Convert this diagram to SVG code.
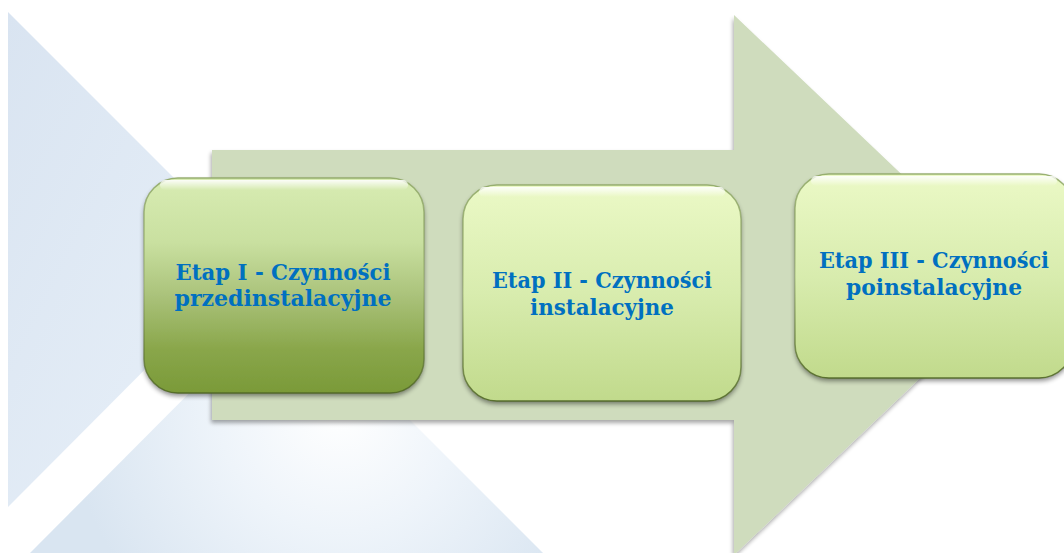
<svg xmlns="http://www.w3.org/2000/svg" width="1064" height="553" viewBox="0 0 1064 553">
  <defs>
    <linearGradient id="bgLeft" x1="0" y1="0" x2="1" y2="1">
      <stop offset="0" stop-color="#d9e4f1"/>
      <stop offset="1" stop-color="#e9f1f9"/>
    </linearGradient>
    <radialGradient id="bgBottom" gradientUnits="userSpaceOnUse" cx="340" cy="410" r="270">
      <stop offset="0" stop-color="#ffffff"/>
      <stop offset="0.45" stop-color="#eef4fa"/>
      <stop offset="1" stop-color="#d9e5f1"/>
    </radialGradient>
    <linearGradient id="darkBox" x1="0" y1="0" x2="0" y2="1">
      <stop offset="0" stop-color="#d8ecb3"/>
      <stop offset="0.3" stop-color="#c9e0a0"/>
      <stop offset="0.55" stop-color="#aac27a"/>
      <stop offset="0.8" stop-color="#89a64a"/>
      <stop offset="1" stop-color="#7a9a38"/>
    </linearGradient>
    <linearGradient id="lightBox" x1="0" y1="0" x2="0" y2="1">
      <stop offset="0" stop-color="#ebf9c6"/>
      <stop offset="0.5" stop-color="#d8ecae"/>
      <stop offset="1" stop-color="#c1da8c"/>
    </linearGradient>
    <linearGradient id="rim" x1="0" y1="0" x2="0" y2="1">
      <stop offset="0" stop-color="#8fa866" stop-opacity="0.9"/>
      <stop offset="0.5" stop-color="#7d9450" stop-opacity="0.35"/>
      <stop offset="1" stop-color="#4f6624" stop-opacity="0.9"/>
    </linearGradient>
    <linearGradient id="gloss" x1="0" y1="0" x2="0" y2="1">
      <stop offset="0" stop-color="#ffffff" stop-opacity="0.9"/>
      <stop offset="1" stop-color="#ffffff" stop-opacity="0"/>
    </linearGradient>
    <filter id="shadow" x="-10%" y="-10%" width="120%" height="125%">
      <feGaussianBlur in="SourceAlpha" stdDeviation="2.5"/>
      <feOffset dx="0" dy="3" result="b"/>
      <feComponentTransfer><feFuncA type="linear" slope="0.45"/></feComponentTransfer>
      <feMerge><feMergeNode/><feMergeNode in="SourceGraphic"/></feMerge>
    </filter>
    <filter id="arrowShadow" x="-5%" y="-5%" width="110%" height="115%">
      <feGaussianBlur in="SourceAlpha" stdDeviation="2"/>
      <feOffset dx="-1" dy="3" result="b"/>
      <feComponentTransfer><feFuncA type="linear" slope="0.35"/></feComponentTransfer>
      <feMerge><feMergeNode/><feMergeNode in="SourceGraphic"/></feMerge>
    </filter>
    <style>
      .label { font-family: "DejaVu Serif", "Liberation Serif", serif; font-weight: bold; font-size: 22px; fill: #0070c0; text-anchor: middle; }
      .rim { fill: none; stroke: url(#rim); stroke-width: 1.5; }
    </style>
  </defs>

  <!-- pale blue background wedges -->
  <g id="background">
    <polygon points="8,12 255,259 8,507" fill="url(#bgLeft)"/>
    <polygon points="286,296 543,553 30,553" fill="url(#bgBottom)"/>
  </g>

  <!-- broad process arrow -->
  <g id="connectors">
    <path d="M212,150 H734 V15 L1018,285 L734,555 V420 H212 Z" fill="#cfdcbd" filter="url(#arrowShadow)"/>
  </g>

  <!-- stage 1 -->
  <g id="stage1">
    <rect x="144" y="178" width="280" height="215" rx="34" fill="url(#darkBox)" filter="url(#shadow)"/>
    <rect x="144" y="178" width="280" height="215" rx="34" class="rim"/>
    <rect x="160" y="180" width="248" height="10" rx="5" fill="url(#gloss)"/>
    <text class="label" x="283" y="280" textLength="215" lengthAdjust="spacingAndGlyphs">Etap I - Czynności</text>
    <text class="label" x="283" y="306" textLength="217" lengthAdjust="spacingAndGlyphs">przedinstalacyjne</text>
  </g>

  <!-- stage 2 -->
  <g id="stage2">
    <rect x="463" y="185" width="278" height="216" rx="34" fill="url(#lightBox)" filter="url(#shadow)"/>
    <rect x="463" y="185" width="278" height="216" rx="34" class="rim"/>
    <rect x="479" y="187" width="246" height="10" rx="5" fill="url(#gloss)"/>
    <text class="label" x="602" y="288" textLength="220" lengthAdjust="spacingAndGlyphs">Etap II - Czynności</text>
    <text class="label" x="602" y="315" textLength="144" lengthAdjust="spacingAndGlyphs">instalacyjne</text>
  </g>

  <!-- stage 3 -->
  <g id="stage3">
    <rect x="795" y="174" width="278" height="204" rx="34" fill="url(#lightBox)" filter="url(#shadow)"/>
    <rect x="795" y="174" width="278" height="204" rx="34" class="rim"/>
    <rect x="811" y="176" width="246" height="10" rx="5" fill="url(#gloss)"/>
    <text class="label" x="934" y="268" textLength="230" lengthAdjust="spacingAndGlyphs">Etap III - Czynności</text>
    <text class="label" x="934" y="295" textLength="176" lengthAdjust="spacingAndGlyphs">poinstalacyjne</text>
  </g>
</svg>
